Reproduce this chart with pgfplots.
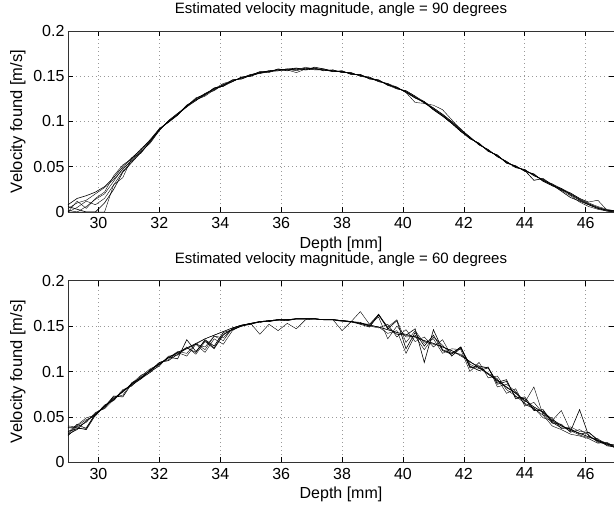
\documentclass[border=0pt]{standalone}
\usepackage{pgfplots}
\usepackage{pgfplotstable}
\usepackage{fontspec}
\setmainfont{Liberation Sans}
\pgfplotsset{compat=1.18}

\pgfplotstableread{
x    a    b    c    d    e    f    g
29.0 .004 .000 .008 .000 .002 .000 .006
29.3 .010 .000 .015 .005 .000 .012 .003
29.6 .013 .000 .018 .012 .006 .004 .000
29.9 .020 .000 .022 .008 .014 .015 .000
30.2 .027 .000 .028 .015 .020 .022 .010
30.5 .036 .030 .038 .030 .034 .040 .025
30.8 .047 .045 .050 .038 .048 .052 .044
31.1 .058 .056 .060 .060 .057 .059 .055
31.4 .068 .066 .069 .065 .067 .070 .066
31.7 .079 .077 .080 .078 .076 .079 .078
32.0 .091 .090 .092 .091 .090 .092 .091
32.3 .100 .101 .099 .100 .101 .100 .100
32.6 .108 .109 .107 .108 .109 .108 .107
32.9 .116 .117 .118 .117 .116 .118 .117
33.2 .125 .123 .124 .125 .123 .124 .126
33.5 .130 .131 .129 .131 .130 .128 .130
33.8 .135 .136 .137 .134 .136 .135 .137
34.1 .141 .140 .139 .141 .142 .140 .139
34.4 .144 .145 .146 .144 .145 .146 .144
34.7 .149 .148 .147 .149 .148 .147 .149
35.0 .151 .152 .151 .150 .152 .151 .150
35.3 .153 .154 .155 .154 .153 .155 .154
35.6 .156 .155 .155 .156 .155 .154 .156
35.9 .157 .156 .158 .157 .157 .158 .156
36.2 .158 .157 .156 .158 .157 .157 .158
36.5 .157 .158 .159 .156 .154 .157 .159
36.8 .159 .158 .157 .159 .158 .160 .157
37.1 .158 .159 .158 .157 .159 .158 .160
37.4 .157 .156 .158 .157 .156 .157 .158
37.7 .156 .157 .155 .156 .157 .155 .156
38.0 .155 .154 .156 .155 .154 .156 .155
38.3 .153 .154 .152 .153 .154 .152 .153
38.6 .151 .150 .152 .151 .150 .152 .151
38.9 .148 .149 .147 .149 .148 .147 .148
39.2 .145 .144 .146 .145 .144 .146 .145
39.5 .141 .142 .140 .141 .142 .140 .141
39.8 .137 .136 .138 .137 .138 .136 .137
40.1 .133 .134 .132 .133 .132 .134 .133
40.4 .127 .128 .126 .127 .121 .128 .126
40.7 .121 .120 .122 .121 .120 .122 .121
41.0 .114 .115 .113 .114 .118 .115 .113
41.3 .107 .108 .106 .107 .113 .108 .106
41.6 .099 .100 .098 .099 .102 .100 .098
41.9 .090 .091 .089 .090 .091 .092 .089
42.2 .082 .083 .081 .082 .083 .081 .082
42.5 .075 .074 .076 .075 .074 .076 .075
42.8 .068 .069 .067 .068 .069 .067 .068
43.1 .062 .061 .063 .062 .061 .063 .062
43.4 .055 .056 .054 .055 .056 .054 .055
43.7 .050 .049 .051 .050 .049 .051 .050
44.0 .046 .047 .045 .046 .047 .045 .046
44.3 .041 .040 .042 .041 .040 .042 .035
44.6 .035 .036 .034 .035 .036 .034 .037
44.9 .030 .031 .029 .030 .029 .031 .030
45.2 .025 .024 .026 .025 .024 .026 .023
45.5 .020 .021 .019 .020 .018 .021 .016
45.8 .014 .015 .013 .014 .011 .015 .012
46.1 .009 .010 .008 .009 .006 .011 .008
46.4 .005 .006 .004 .005 .003 .013 .004
46.7 .002 .003 .001 .002 .001 .002 .002
47.0 .001 .001 .000 .001 .000 .001 .001
}\toptable

\pgfplotstableread{
x    s    t    p    q    r    u    v    w
29.0 .030 .031 .038 .033 .029 .040 .034 .031
29.3 .037 .036 .038 .042 .040 .039 .037 .041
29.6 .045 .046 .036 .037 .047 .044 .038 .049
29.9 .053 .053 .052 .054 .051 .055 .053 .052
30.2 .061 .062 .063 .060 .062 .059 .061 .062
30.5 .070 .069 .068 .072 .071 .069 .073 .070
30.8 .078 .078 .079 .074 .077 .080 .072 .078
31.1 .086 .087 .085 .088 .087 .084 .087 .086
31.4 .094 .093 .092 .093 .096 .095 .093 .092
31.7 .101 .101 .102 .099 .100 .103 .101 .099
32.0 .109 .108 .108 .110 .106 .108 .110 .107
32.3 .115 .115 .116 .113 .117 .115 .112 .116
32.6 .121 .121 .114 .121 .118 .122 .119 .120
32.9 .126 .126 .135 .117 .127 .120 .126 .125
33.2 .131 .130 .122 .130 .119 .131 .121 .130
33.5 .136 .136 .134 .121 .133 .124 .135 .127
33.8 .140 .140 .126 .136 .125 .139 .128 .139
34.1 .144 .144 .141 .130 .140 .134 .143 .137
34.4 .148 .148 .146 .145 .147 .148 .146 .147
34.7 .151 .151 .150 .151 .150 .151 .150 .151
35.0 .153 .153 .152 .153 .153 .152 .153 .153
35.3 .155 .155 .155 .154 .141 .155 .155 .154
35.6 .156 .156 .155 .156 .152 .156 .155 .156
35.9 .157 .157 .157 .157 .145 .156 .157 .157
36.2 .157 .157 .157 .156 .153 .157 .157 .156
36.5 .158 .158 .158 .158 .147 .158 .158 .158
36.8 .158 .158 .158 .158 .157 .158 .158 .158
37.1 .158 .158 .158 .158 .158 .158 .158 .158
37.4 .157 .157 .157 .157 .157 .157 .157 .157
37.7 .157 .157 .157 .157 .157 .157 .157 .157
38.0 .156 .156 .156 .145 .156 .156 .156 .155
38.3 .155 .155 .155 .155 .155 .154 .155 .155
38.6 .153 .153 .154 .166 .153 .153 .152 .153
38.9 .151 .151 .150 .152 .152 .150 .149 .151
39.2 .149 .149 .163 .160 .163 .148 .162 .149
39.5 .146 .146 .147 .136 .149 .152 .148 .142
39.8 .143 .143 .156 .150 .157 .138 .141 .145
40.1 .141 .140 .125 .138 .132 .146 .140 .120
40.4 .138 .138 .143 .139 .145 .133 .147 .140
40.7 .134 .134 .128 .124 .131 .138 .110 .133
41.0 .131 .131 .140 .138 .136 .127 .146 .130
41.3 .127 .127 .123 .129 .120 .135 .124 .128
41.6 .123 .123 .119 .117 .125 .117 .120 .121
41.9 .117 .118 .127 .126 .124 .126 .127 .119
42.2 .111 .111 .104 .108 .100 .105 .106 .110
42.5 .104 .104 .106 .103 .110 .105 .101 .106
42.8 .097 .097 .104 .105 .093 .098 .104 .097
43.1 .090 .090 .088 .083 .095 .092 .086 .091
43.4 .083 .083 .091 .086 .080 .076 .089 .082
43.7 .076 .076 .070 .078 .073 .081 .072 .077
44.0 .068 .068 .072 .066 .065 .062 .070 .064
44.3 .061 .061 .058 .083 .060 .066 .057 .059
44.6 .055 .055 .056 .052 .049 .054 .058 .052
44.9 .045 .046 .047 .049 .046 .043 .044 .040
45.2 .040 .040 .041 .037 .057 .042 .038 .036
45.5 .036 .036 .034 .039 .035 .033 .037 .031
45.8 .032 .032 .058 .034 .030 .036 .031 .029
46.1 .028 .028 .029 .033 .027 .030 .033 .026
46.4 .024 .024 .023 .025 .026 .022 .024 .021
46.7 .020 .020 .019 .021 .018 .021 .020 .022
47.0 .017 .017 .016 .018 .017 .015 .019 .016
}\bottable

\pgfplotsset{
  mstyle/.style={
    scale only axis,
    width=546pt,
    xmin=29, xmax=46.93,
    ymin=0, ymax=0.2,
    xtick={30,32,...,46},
    ytick={0,0.05,0.1,0.15,0.2},
    yticklabels={0,0.05,0.1,0.15,0.2},
    scaled y ticks=false,
    tick align=inside,
    major tick length=5pt,
    every tick/.style={black, line width=0.6pt},
    axis line style={line width=0.8pt, black!80},
    grid=major,
    major grid style={gray!80, line width=0.6pt, dash pattern=on 0.7pt off 3.3pt},
    /pgf/number format/assume math mode=true,
    ticklabel style={font=\fontsize{16}{16}\selectfont},
    xticklabel style={yshift=-2pt},
    title style={font=\fontsize{15}{15}\selectfont, yshift=5pt},
    xlabel style={font=\fontsize{16}{16}\selectfont, at={(axis description cs:0.5,-0.199)}, anchor=base},
    ylabel style={font=\fontsize{16.5}{16.5}\selectfont, at={(axis description cs:-0.0842,0.5)}, anchor=base, rotate=0},
    xlabel={Depth [mm]},
    ylabel={Velocity found [m/s]},
    cycle list={{black, solid, line width=0.6pt, mark=none}},
    clip=true,
  }
}

\begin{document}
\begin{tikzpicture}[x=1pt,y=1pt]
\useasboundingbox (0,0) rectangle (614,508);
\begin{axis}[mstyle, at={(68pt,296pt)}, anchor=south west, height=181pt,
  title={Estimated velocity magnitude, angle = 90 degrees}]
\pgfplotsinvokeforeach{a,b,c,d,e,f,g}{
  \addplot table[x=x,y=#1]{\toptable};
}
\end{axis}
\begin{axis}[mstyle, at={(68pt,45.7pt)}, anchor=south west, height=181.6pt,
  title={Estimated velocity magnitude, angle = 60 degrees}]
\pgfplotsinvokeforeach{s,t,p,q,r,u,v,w}{
  \addplot table[x=x,y=#1]{\bottable};
}
\end{axis}
\end{tikzpicture}
\end{document}
